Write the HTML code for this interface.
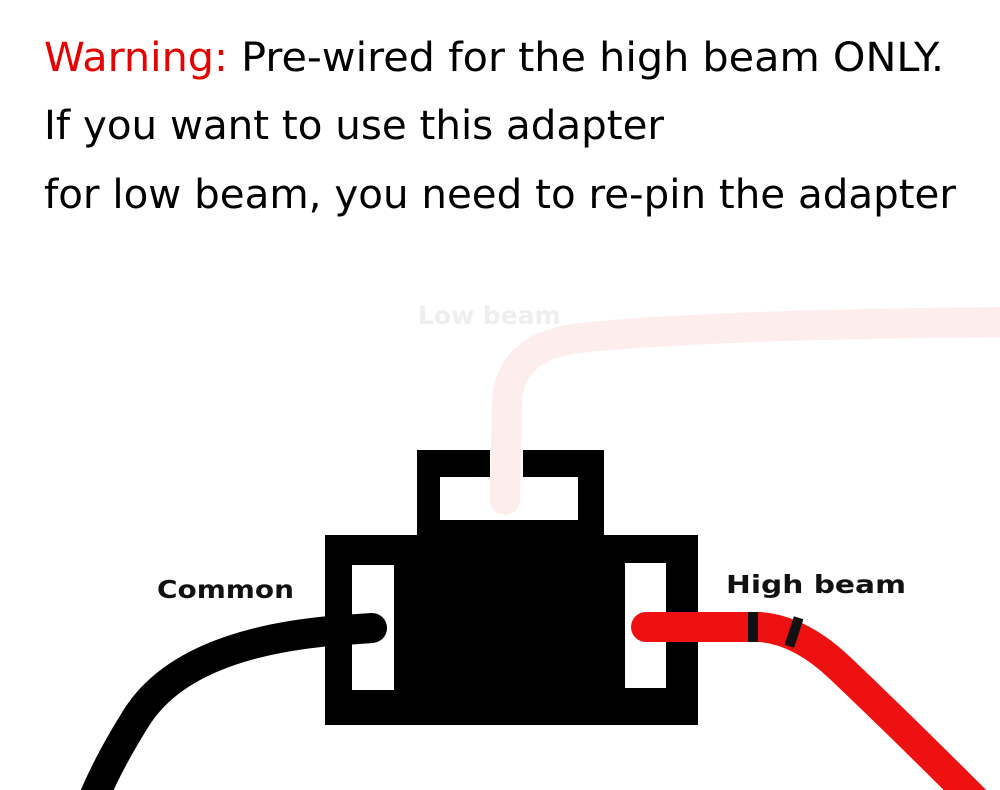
<!DOCTYPE html>
<html><head><meta charset="utf-8"><style>html,body{margin:0;padding:0;background:#fff;width:1000px;height:790px;overflow:hidden}</style></head>
<body>
<svg width="1000" height="790" viewBox="0 0 1000 790" xmlns="http://www.w3.org/2000/svg">
<rect width="1000" height="790" fill="#fff"/>
<g font-family="DejaVu Sans, Liberation Sans, sans-serif" font-size="40">
<text x="44" y="71" textLength="900" lengthAdjust="spacingAndGlyphs"><tspan fill="#e60000">Warning:</tspan> Pre-wired for the high beam ONLY.</text>
<text x="44" y="139" textLength="620" lengthAdjust="spacingAndGlyphs">If you want to use this adapter</text>
<text x="44" y="208" textLength="912" lengthAdjust="spacingAndGlyphs">for low beam, you need to re-pin the adapter</text>
</g>
<path d="M505,500 L507,400 Q512,345 580,338 Q700,325 1000,322" fill="none" stroke="#fdeded" stroke-width="30" stroke-linecap="round"/>
<text x="418" y="324" font-family="DejaVu Sans, sans-serif" font-weight="bold" font-size="25" fill="#eeeeee">Low  beam</text>
<path d="M417,450 H490 V477 H440 V520 H578 V477 H523 V450 H604 V535 H698 V725 H325 V535 H417 Z" fill="#000"/>
<rect x="352" y="565" width="42" height="125" fill="#fff"/>
<rect x="625" y="563" width="41" height="125" fill="#fff"/>
<path d="M372,628 L330,631 Q180,645 135,720 Q110,760 95,795" fill="none" stroke="#000" stroke-width="30" stroke-linecap="round"/>
<path d="M646,627 L760,627 Q800,630 840,668 Q900,725 975,800" fill="none" stroke="#ee1111" stroke-width="30" stroke-linecap="round"/>
<rect x="748" y="612" width="10" height="30" fill="#111"/>
<rect x="789" y="617" width="10" height="30" fill="#111" transform="rotate(18 794 632)"/>
<g font-family="DejaVu Sans, sans-serif" font-weight="bold" font-size="25" fill="#111">
<text x="157" y="598" textLength="137" lengthAdjust="spacingAndGlyphs">Common</text>
<text x="726" y="593" textLength="180" lengthAdjust="spacingAndGlyphs">High  beam</text>
</g>
</svg>
</body></html>
